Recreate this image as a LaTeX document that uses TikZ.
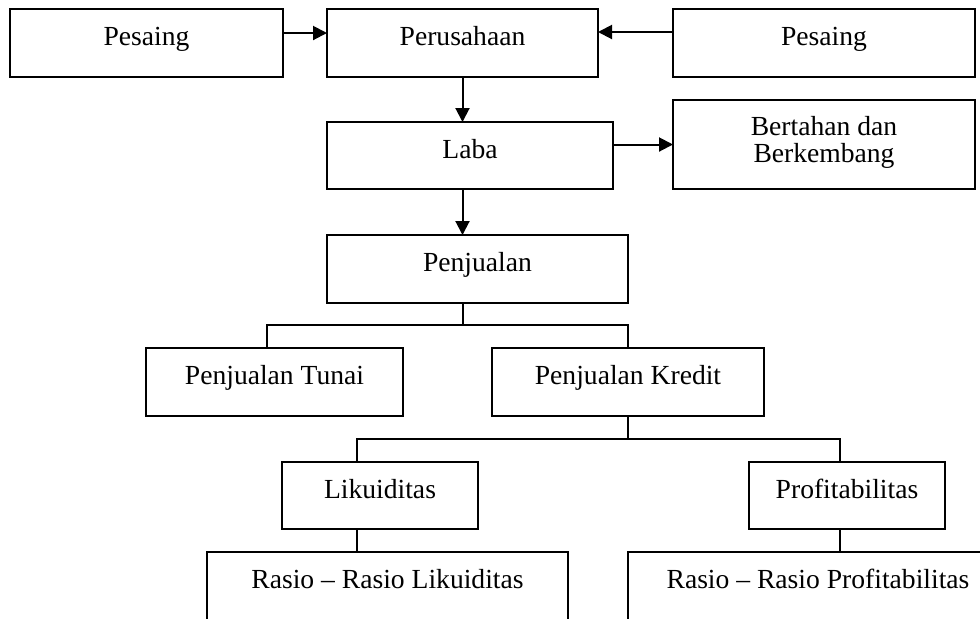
\documentclass[tikz,border=0pt]{standalone}
\usepackage{fontspec}
\setmainfont{Liberation Serif}
\usetikzlibrary{arrows.meta,positioning}
\tikzset{
    %Define standard arrow tip
    >={Triangle[length=7pt,width=7pt]},
    %Define style for boxes
    kotak/.style={
           rectangle,
           draw=black, line width=1pt,
           inner sep=0pt, outer sep=0pt,
           minimum height=34pt,
           text height=18pt, text depth=16pt,
           font=\fontsize{13.8pt}{13.5pt}\selectfont,
           align=center,
           },
    %boxes cut off at the bottom edge
    kotakbawah/.style={
           kotak,
           minimum height=60pt,
           text depth=42pt,
           },
    % Define arrow style
    pil/.style={
           ->,
           line width=1pt,},
    garis/.style={line width=1pt}
}
\begin{document}
\begin{tikzpicture}
\useasboundingbox (0,0) rectangle (490pt,-309pt);
\clip (0,0) rectangle (490pt,-309pt);

 %nodes
\node[kotak, minimum width=136.5pt](pesaing1) at (73.25pt,-21.5pt){Pesaing};
\node[kotak, minimum width=135.5pt, right=22pt of pesaing1](perusahaan){Perusahaan};
\node[kotak, minimum width=151pt, right=37.5pt of perusahaan](pesaing2){Pesaing};
\node[kotak, minimum width=143pt, minimum height=33.5pt, text depth=15.5pt](laba) at (235pt,-77.75pt){Laba};
\node[kotak, minimum width=151pt, minimum height=44.5pt, text height=31pt, text depth=13.5pt](bertahan) at (412pt,-72.25pt){Bertahan dan\\Berkembang};
\node[kotak, minimum width=150.5pt](penjualan) at (238.75pt,-134.5pt){Penjualan};
\node[kotak, minimum width=128.5pt](tunai) at (137.25pt,-191pt){Penjualan Tunai};
\node[kotak, minimum width=136pt](kredit) at (314pt,-191pt){Penjualan Kredit};
\node[kotak, minimum width=98pt, minimum height=33.5pt, text depth=15.5pt](likuid) at (190pt,-247.75pt){Likuiditas};
\node[kotak, minimum width=98pt, minimum height=33.5pt, text depth=15.5pt](profit) at (423.5pt,-247.75pt){Profitabilitas};
\node[kotakbawah, minimum width=180.5pt](rasio1) at (193.75pt,-306pt){Rasio -- Rasio Likuiditas};
\node[kotakbawah, minimum width=190pt](rasio2) at (409pt,-306pt){Rasio -- Rasio Profitabilitas};

 %arrows
\draw[pil] ([yshift=5pt]pesaing1.east) -- ([yshift=5pt]perusahaan.west);
\draw[pil] ([yshift=5.5pt]pesaing2.west) -- ([yshift=5.5pt]perusahaan.east);
\draw[pil] (perusahaan.south) -- (perusahaan.south |- laba.north);
\draw[pil] (laba.east |- bertahan.west) -- (bertahan.west);
\draw[pil] (laba.south -| perusahaan.south) -- (penjualan.north -| perusahaan.south);

 %branches
\draw[garis] (penjualan.south -| perusahaan.south) -- ++(0,-11pt) coordinate (cabang1);
\draw[garis] ([xshift=-3.75pt]tunai.north) |- (cabang1) -| (kredit.north);
\draw[garis] (kredit.south) -- ++(0,-11.5pt) coordinate (cabang2);
\draw[garis] ([xshift=-11.5pt]likuid.north) |- (cabang2) -| ([xshift=-3.75pt]profit.north);
\draw[garis] ([xshift=-11.5pt]likuid.south) -- ([xshift=-11.5pt]likuid.south |- rasio1.north);
\draw[garis] ([xshift=-3.75pt]profit.south) -- ([xshift=-3.75pt]profit.south |- rasio2.north);

\end{tikzpicture}
\end{document}
